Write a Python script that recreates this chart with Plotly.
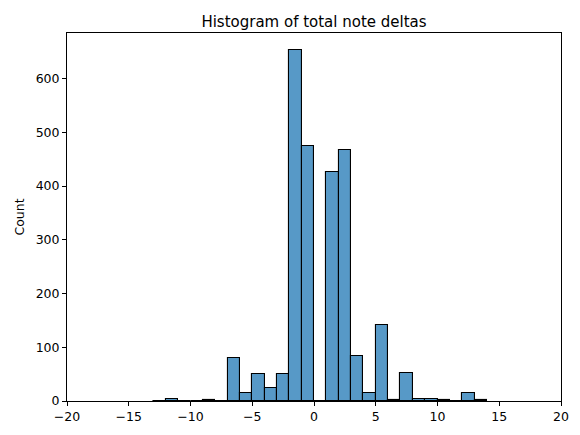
import plotly.graph_objects as go

# bin left edges (width 1) and counts
bin_left = [-13, -12, -11, -10, -9, -8, -7, -6, -5, -4, -3, -2, -1, 0,
            1, 2, 3, 4, 5, 6, 7, 8, 9, 10, 11, 12, 13]
counts = [0, 4, 0, 0, 2, 0, 80, 15, 50, 24, 50, 654, 475, 0,
          427, 468, 83, 14, 141, 2, 52, 3, 3, 1, 0, 14, 1]

x_ticks = [-20, -15, -10, -5, 0, 5, 10, 15, 20]
y_ticks = [0, 100, 200, 300, 400, 500, 600]

_FONTE = "DejaVu Sans, Liberation Sans, sans-serif"

_EIXO = {
    "showline": True,
    "linecolor": "black",
    "linewidth": 1,
    "mirror": True,
    "ticks": "outside",
    "ticklen": 4,
    "tickcolor": "black",
    "showgrid": False,
    "zeroline": False,
    "tickfont": {"size": 12.5, "color": "black"},
}

fig = go.Figure(
    go.Bar(
        x=[b + 0.5 for b in bin_left],
        y=counts,
        width=1,
        marker_color="rgba(31,119,180,0.75)",
        marker_line_color="black",
        marker_line_width=1.1,
    )
)

# a página tem 8px de margem no body, por isso o deslocamento
fig.update_layout(
    width=580,
    height=435,
    margin={"l": 59, "r": 27, "t": 25, "b": 42},
    plot_bgcolor="white",
    paper_bgcolor="white",
    font={"family": _FONTE, "color": "black"},
    showlegend=False,
    bargap=0,
    title={
        "text": "Histogram of total note deltas",
        "x": 0.5,
        "xref": "paper",
        "xanchor": "center",
        "y": 1,
        "yref": "paper",
        "yanchor": "bottom",
        "pad": {"b": 6},
        "font": {"size": 15, "color": "black"},
    },
    xaxis={**_EIXO, "range": [-20, 20], "tickvals": x_ticks},
    yaxis={
        **_EIXO,
        "range": [0, 685],
        "tickvals": y_ticks,
        "title": {"text": "Count", "font": {"size": 12.5}, "standoff": 8},
    },
)

fig.write_html("out.html")
